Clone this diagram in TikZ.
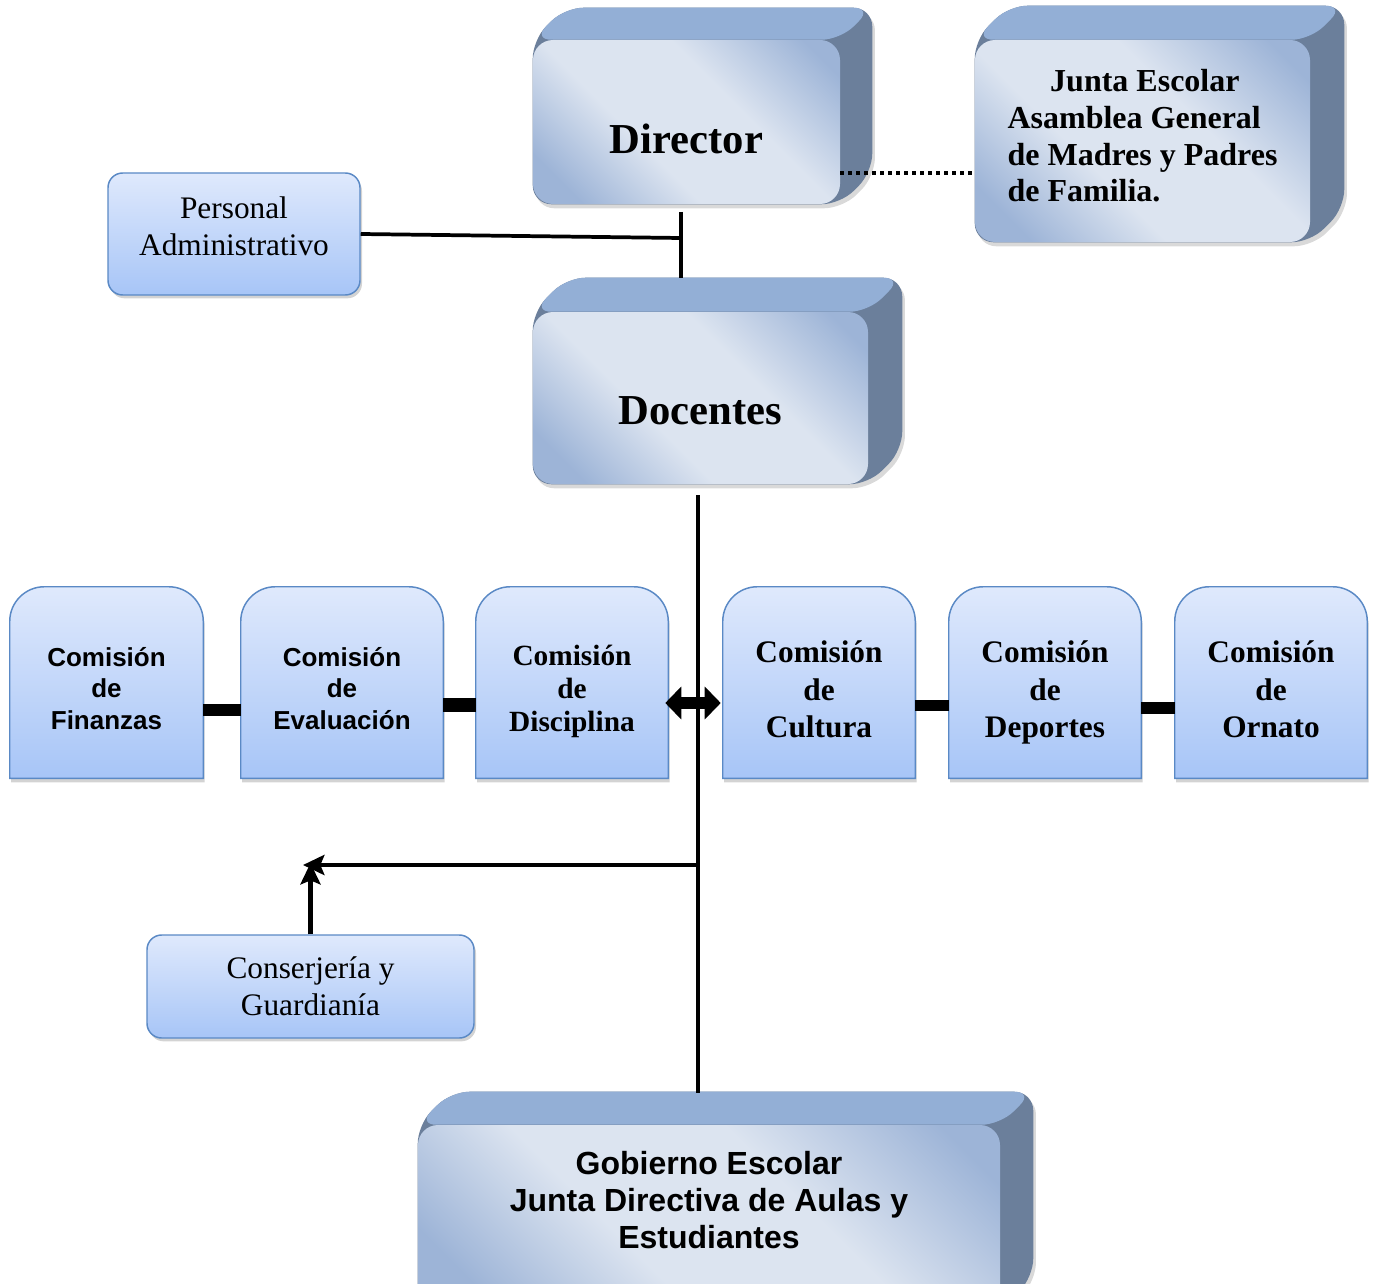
\documentclass[tikz,border=0pt]{standalone}
\usepackage{fontspec}
\setmainfont{Liberation Serif}
\newfontfamily\arialf{Liberation Sans}
\usetikzlibrary{arrows.meta,shadows,calc}
\pgfdeclarelayer{bg}
\pgfdeclarelayer{mid}
\pgfsetlayers{bg,mid,main}
\definecolor{topface}{HTML}{93AFD6}
\definecolor{sideface}{HTML}{6B7F9B}
\definecolor{frontdark}{HTML}{9DB4D7}
\definecolor{frontlight}{HTML}{DCE4F0}
\definecolor{flattop}{HTML}{DFE9FC}
\definecolor{flatbot}{HTML}{A7C5F7}
\definecolor{flatborder}{HTML}{5A89C5}
\pgfdeclarehorizontalshading{frontsh}{100bp}{color(0bp)=(frontdark); color(22bp)=(frontdark); color(40bp)=(frontlight); color(60bp)=(frontlight); color(80bp)=(frontdark); color(100bp)=(frontdark)}
\newcommand\extrude[2]{%
  \begin{pgfonlayer}{bg}
    \fill[sideface, rounded corners=14pt, drop shadow={opacity=0.3, shadow xshift=2pt, shadow yshift=-3pt}]
      (#1.north west) -- ([shift={(#2,-#2)}]#1.north west) -- ([shift={(#2,-#2)}]#1.north east)
      -- ([shift={(#2,-#2)}]#1.south east) -- (#1.south east) -- (#1.south west) -- cycle;
    \fill[topface, rounded corners=14pt]
      (#1.north west) -- ([shift={(#2,-#2)}]#1.north west) -- ([shift={(#2,-#2)}]#1.north east)
      -- (#1.north east) -- cycle;
  \end{pgfonlayer}}
\newcommand\tabshape[1]{%
  \begin{pgfonlayer}{mid}
    \path[tabstyle] (#1.south west) -- ([yshift=-26pt]#1.north west)
      arc[start angle=180, end angle=90, radius=26pt] -- ([xshift=-26pt]#1.north east)
      arc[start angle=90, end angle=0, radius=26pt] -- (#1.south east) -- cycle;
  \end{pgfonlayer}}
\begin{document}
\begin{tikzpicture}[x=0.75pt, y=-0.75pt,
  front3d/.style={shape=rectangle, rounded corners=15pt, shading=frontsh, shading angle=45, inner sep=0pt},
  flatbox/.style={shape=rectangle, rounded corners=11pt, draw=flatborder, line width=1.1pt,
    top color=flattop, bottom color=flatbot, inner sep=0pt, align=center,
    drop shadow={opacity=0.35, shadow xshift=1.5pt, shadow yshift=-2.5pt},
    font=\fontsize{23.5}{27.75}\selectfont},
  tabnode/.style={shape=rectangle, inner sep=0pt, minimum height=143.25pt, align=center, text depth=0pt},
  tabstyle/.style={draw=flatborder, line width=1.1pt, top color=flattop, bottom color=flatbot,
    drop shadow={opacity=0.35, shadow xshift=1pt, shadow yshift=-3pt}},
  sansc/.style={font=\arialf\bfseries\fontsize{19.5}{23.6}\selectfont, text height=70pt},
  serifc/.style={font=\bfseries\fontsize{23.5}{28}\selectfont, text height=82.4pt},
  solidconn/.style={line width=2.8pt},
  mainconn/.style={line width=2.4pt},
  dotconn/.style={line width=3.2pt, dash pattern=on 3pt off 3pt},
  bar/.style={line width=#1},
  dblarrow/.style={line width=9pt, {Triangle[length=12pt,width=24pt]}-{Triangle[length=12pt,width=24pt]}},
  bigarrow/.style={line width=3.6pt, -{Stealth[length=16pt,width=15pt,inset=3pt]}}
]
\useasboundingbox (0,0) rectangle (1378,1284);

% 3D boxes
\node[front3d, minimum width=230.25pt, minimum height=123pt, text height=48pt, text depth=0pt,
  font=\fontsize{32}{36}\selectfont\bfseries] (dir) at (686.5,122) {Director};
\extrude{dir}{32}
\node[front3d, minimum width=251.25pt, minimum height=151.5pt, align=left, text depth=8pt,
  font=\fontsize{24}{27.6}\selectfont\bfseries] (jun) at (1142.5,141)
  {\hspace*{32pt}Junta Escolar\\Asamblea General\\de Madres y Padres\\de Familia.\hspace*{5pt}};
\extrude{jun}{34}
\node[front3d, minimum width=251.25pt, minimum height=129pt, text height=39pt, text depth=0pt,
  font=\fontsize{32}{36}\selectfont\bfseries] (doc) at (700.5,398) {Docentes};
\extrude{doc}{34}
\node[front3d, minimum width=436.5pt, minimum height=138.75pt, align=center, text depth=26pt,
  font=\arialf\bfseries\fontsize{24}{27.75}\selectfont] (gob) at (709,1217.5)
  {Gobierno Escolar\\Junta Directiva de Aulas y\\Estudiantes};
\extrude{gob}{33}

% flat boxes
\node[flatbox, minimum width=189pt, minimum height=91.5pt, text depth=12pt] (pa) at (234,234) {Personal\\Administrativo};
\node[flatbox, minimum width=245.25pt, minimum height=77.25pt] (con) at (310.5,986.5) {Conserjería y\\Guardianía};

% comisiones
\node[tabnode, sansc, minimum width=144.75pt] (fin) at (106.5,682.5) {Comisión\\de\\Finanzas};
\node[tabnode, sansc, minimum width=151.5pt] (eva) at (342,682.5) {Comisión\\de\\Evaluación};
\node[tabnode, font=\bfseries\fontsize{22}{25}\selectfont, text height=74pt, minimum width=144pt] (dis) at (572,682.5) {Comisión\\de\\Disciplina};
\node[tabnode, serifc, minimum width=144pt] (cul) at (819,682.5) {Comisión\\de\\Cultura};
\node[tabnode, serifc, minimum width=144pt] (dep) at (1045,682.5) {Comisión\\de\\Deportes};
\node[tabnode, serifc, minimum width=144pt] (orn) at (1271,682.5) {Comisión\\de\\Ornato};
\tabshape{fin}\tabshape{eva}\tabshape{dis}\tabshape{cul}\tabshape{dep}\tabshape{orn}

% connectors
\coordinate (pv1) at (681,212);
\coordinate (pv2) at (681,278);
\draw[solidconn] (pv1) -- (pv2);
\draw[solidconn] (pa.east) -- ($(pa.east -| pv1)+(0,4)$);
\coordinate (dl) at ($(dir.south east)+(0,-31)$);
\draw[dotconn] (dl) -- (dl -| jun.west);
\coordinate (m1) at (698,495);
\coordinate (m2) at (698,1093);
\draw[mainconn] (m1) -- (m2);
\draw[dblarrow] ($(dis.east)+(-3,20.5)$) -- ($(cul.west)+(-2,20.5)$);
\draw[bar=9pt] ($(fin.east)+(0,27.5)$) -- ($(eva.west)+(0,27.5)$);
\draw[bar=10.5pt] ($(eva.east)+(0,22.5)$) -- ($(dis.west)+(0,22.5)$);
\draw[bar=8.25pt] ($(cul.east)+(0,22.5)$) -- ($(dep.west)+(0,22.5)$);
\draw[bar=9pt] ($(dep.east)+(0,25.5)$) -- ($(orn.west)+(0,25.5)$);
\coordinate (jn) at (698,865);
\coordinate (ak) at (303,865);
\draw[bigarrow] (jn) -- (ak);
\draw[bigarrow] (con.north) -- ($(con.north |- ak)+(0,-2)$);
\end{tikzpicture}
\end{document}
